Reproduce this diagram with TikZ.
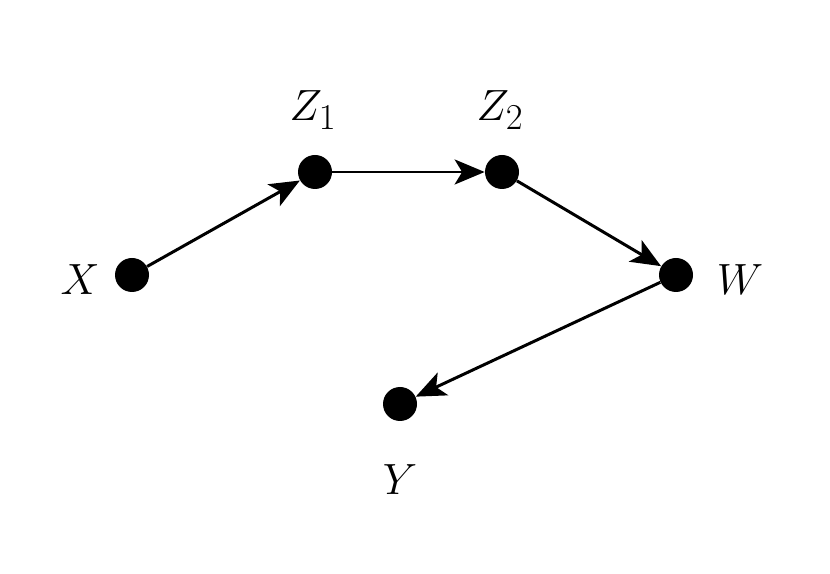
\documentclass[tikz,border=0pt]{standalone}
\usepackage{amsmath}
\usetikzlibrary{arrows.meta}

\begin{document}
\begin{tikzpicture}[dot/.style={circle, fill, inner sep=0pt, minimum size=0.68cm},
    lbl/.style={font=\fontsize{28}{30}\selectfont}]
        \useasboundingbox (0,0) rectangle (16.6,11.46);
        \node[dot] (X) at (2.64, 5.96) {};
        \node[dot] (Z1) at (6.30, 8.02) {};
        \node[dot] (Z2) at (10.04, 8.02) {};
        \node[dot] (W) at (13.52, 5.96) {};
        \node[dot] (Y) at (8.00, 3.38) {};

        \node[lbl] (lX) at (1.6, 5.86) {$X$};
        \node[lbl] (lZ1) at (6.26, 9.26) {$Z_1$};
        \node[lbl] (lZ2) at (10.0, 9.26) {$Z_2$};
        \node[lbl] (lW) at (14.8, 5.86) {$W$};
        \node[lbl] (lY) at (8.0, 1.86) {$Y$};

        \draw[line width=1.7pt, -{Stealth[length=0.6cm, width=0.5cm, inset=0.15cm]}] (X) -- (Z1);
        \draw[line width=1.7pt, -{Stealth[length=0.6cm, width=0.5cm, inset=0.15cm]}] (Z1) -- (Z2);
        \draw[line width=1.7pt, -{Stealth[length=0.6cm, width=0.5cm, inset=0.15cm]}] (Z2) -- (W);
        \draw[line width=1.7pt, -{Stealth[length=0.6cm, width=0.5cm, inset=0.15cm]}] (W) -- (Y);
    \end{tikzpicture}
\end{document}
